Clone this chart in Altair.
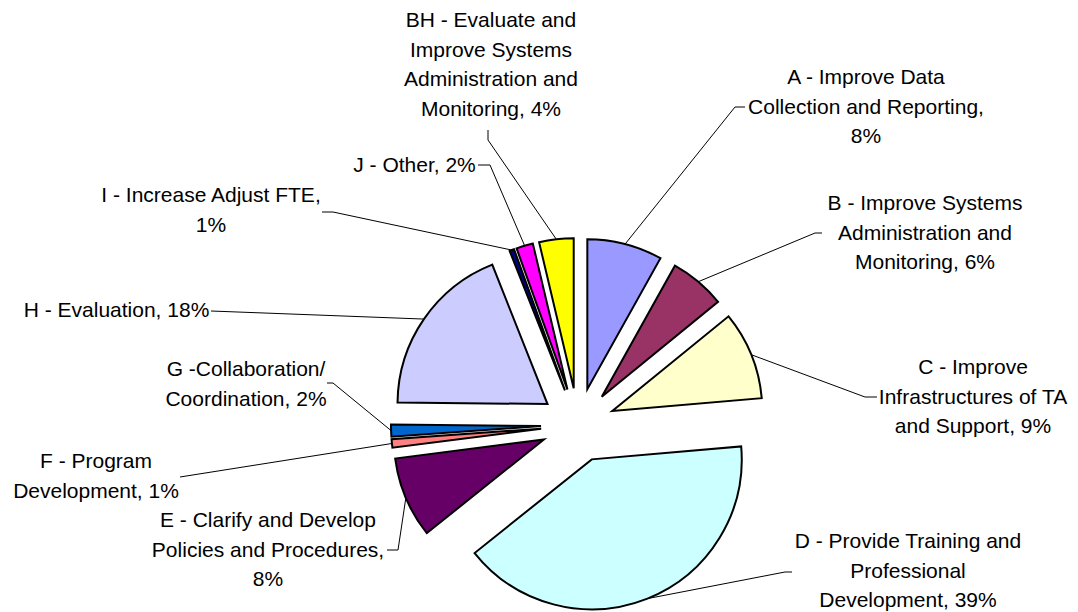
import math
import altair as alt
import pandas as pd

# ---- data ----
categories = ["A", "B", "C", "D", "E", "F", "G", "H", "I", "J", "BH"]
values = [8.1, 6.0, 9.5, 40.6, 8.7, 0.9, 1.3, 18.8, 0.5, 1.8, 3.7]
label_texts = [
    "A - Improve Data\nCollection and Reporting,\n8%",
    "B - Improve Systems\nAdministration and\nMonitoring, 6%",
    "C - Improve\nInfrastructures of TA\nand Support, 9%",
    "D - Provide Training and\nProfessional\nDevelopment, 39%",
    "E - Clarify and Develop\nPolicies and Procedures,\n8%",
    "F - Program\nDevelopment, 1%",
    "G -Collaboration/\nCoordination, 2%",
    "H - Evaluation, 18%",
    "I - Increase Adjust FTE,\n1%",
    "J - Other, 2%",
    "BH - Evaluate and\nImprove Systems\nAdministration and\nMonitoring, 4%",
]
colors = ["#9999FF", "#993366", "#FFFFCC", "#CCFFFF", "#660066", "#FF8080",
          "#0066CC", "#CCCCFF", "#000080", "#FF00FF", "#FFFF00"]

# ---- layout (screen pixel units) ----
W, H = 1062, 604
CX, CY = 578, 425          # pie centre
R = 150                    # pie radius
EXPLODE = 37               # explosion distance
label_x = [866, 925, 973, 908, 268, 96, 246, 116.5, 211, 414.5, 491]
label_y = [78, 204, 368, 542, 521, 462, 370, 311, 196, 166, 21]
elbow_x = [735, 815, 865, 785, 398, 180, 333, 211, 333, 490, 488]
elbow_y = [107, 233, 397, 572, 550, 477, 383, 311, 212, 165, 140]
end_x = [745, 822, 877, 792, 387, 180, 327, 211, 322, 478, 488]
end_y = [107, 233, 397, 572, 550, 477, 383, 311, 212, 165, 130]

total = sum(values)
df = pd.DataFrame({
    "idx": list(range(len(categories))),
    "cat": categories,
    "value": values,
    "label": label_texts,
    "lx": label_x, "ly": label_y,
    "ex": elbow_x, "ey": elbow_y,
    "tx": end_x, "ty": end_y,
})

xs = alt.Scale(domain=[8, 8 + W], nice=False, zero=False)
ys = alt.Scale(domain=[8, 8 + H], nice=False, zero=False, reverse=True)
color_scale = alt.Scale(domain=categories, range=colors)

base = alt.Chart(df).transform_window(
    cum="sum(value)", sort=[alt.SortField("idx")], frame=[None, 0]
).transform_calculate(
    start="datum.cum - datum.value",
    mid=f"(datum.cum - datum.value / 2) / {total} * 2 * PI",
).transform_calculate(
    ox=f"{CX} + {EXPLODE} * sin(datum.mid)",
    oy=f"{CY} - {EXPLODE} * cos(datum.mid)",
).transform_calculate(
    ax=f"datum.ox + {R} * sin(datum.mid)",
    ay=f"datum.oy - {R} * cos(datum.mid)",
)

slices = base.mark_arc(radius=R, stroke="black", strokeWidth=2).encode(
    x=alt.X("ox:Q", scale=xs, axis=None),
    y=alt.Y("oy:Q", scale=ys, axis=None),
    theta=alt.Theta("start:Q", stack=False,
                    scale=alt.Scale(domain=[0, total], range=[0, 2 * math.pi])),
    theta2="cum:Q",
    color=alt.Color("cat:N", scale=color_scale, legend=None),
    order=alt.Order("idx:Q"),
)

lead1 = base.mark_rule(color="black", strokeWidth=1).encode(
    x=alt.X("ax:Q", scale=xs, axis=None),
    y=alt.Y("ay:Q", scale=ys, axis=None),
    x2="ex:Q", y2="ey:Q",
)
lead2 = base.mark_rule(color="black", strokeWidth=1).encode(
    x=alt.X("ex:Q", scale=xs, axis=None),
    y=alt.Y("ey:Q", scale=ys, axis=None),
    x2="tx:Q", y2="ty:Q",
)

labels = base.mark_text(
    font="Liberation Sans", fontSize=21, color="black", align="center",
    baseline="middle", lineBreak="\n", lineHeight=29.5,
).encode(
    x=alt.X("lx:Q", scale=xs, axis=None),
    y=alt.Y("ly:Q", scale=ys, axis=None),
    text="label:N",
)

chart = alt.layer(lead1, lead2, slices, labels).properties(
    width=W, height=H, padding=0,
    autosize=alt.AutoSizeParams(type="none"),
    background="white",
).configure_view(stroke=None)

chart.save("out.html", embed_options={"renderer": "svg", "actions": False})
